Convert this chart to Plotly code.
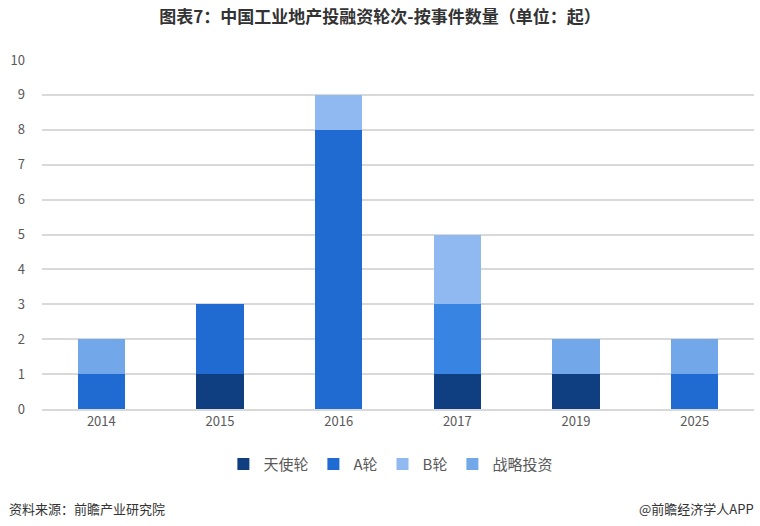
import plotly.graph_objects as go

years = ["2014", "2015", "2016", "2017", "2019", "2025"]
angel = [0, 1, 0, 1, 1, 0]
round_a = [1, 2, 8, 2, 0, 1]
round_b = [0, 0, 1, 2, 0, 0]
strategic = [1, 0, 0, 0, 1, 1]

series = [
    ("天使轮", angel, "#0f3f80"),
    ("A轮", round_a, ["#1f6bd1", "#1f6bd1", "#1f6bd1", "#3784e3", "#1f6bd1", "#1f6bd1"]),
    ("B轮", round_b, "#8fb9f0"),
    ("战略投资", strategic, "#72a7ea"),
]

fig = go.Figure()
for name, vals, color in series:
    fig.add_trace(go.Bar(
        x=years, y=vals, name=name,
        marker=dict(color=color, line=dict(width=0)),
        hovertemplate="%{x} " + name + ": %{y}<extra></extra>",
    ))

font_cjk = "Noto Sans CJK SC, Noto Sans, sans-serif"
fig.update_layout(
    barmode="stack",
    bargap=0.6,
    width=760, height=526,
    margin=dict(l=42, r=6, t=60, b=117),
    paper_bgcolor="white", plot_bgcolor="white",
    font=dict(family=font_cjk, color="#595959", size=13),
    title=dict(
        text="<b>图表7：中国工业地产投融资轮次-按事件数量（单位：起）</b>",
        x=0.5, xanchor="center", y=0.967, yanchor="middle",
        font=dict(family=font_cjk, size=17, color="#333333"),
    ),
    xaxis=dict(
        type="category", showgrid=False, showline=True,
        linecolor="#d9d9d9", linewidth=1.5, ticks="",
        tickfont=dict(size=13, color="#595959"),
    ),
    yaxis=dict(
        range=[0, 10], dtick=1, showgrid=True, gridcolor="#d9d9d9",
        gridwidth=1.5, zeroline=False, ticks="",
        tickfont=dict(size=13, color="#595959"), ticklabelstandoff=16,
    ),
    legend=dict(
        orientation="h", x=0.49, xanchor="center", y=-0.158, yanchor="middle",
        font=dict(size=15, color="#595959"), traceorder="normal",
        itemwidth=30,
    ),
    annotations=[
        dict(text="资料来源：前瞻产业研究院", xref="paper", yref="paper",
             x=-35/712, y=-100/349, xanchor="left", yanchor="middle",
             showarrow=False, font=dict(size=13, color="#333333", family=font_cjk)),
        dict(text="@前瞻经济学人APP", xref="paper", yref="paper",
             x=1 + 2/712, y=-100/349, xanchor="right", yanchor="middle",
             showarrow=False, font=dict(size=13, color="#333333", family=font_cjk)),
    ],
)

fig.write_html("out.html")
